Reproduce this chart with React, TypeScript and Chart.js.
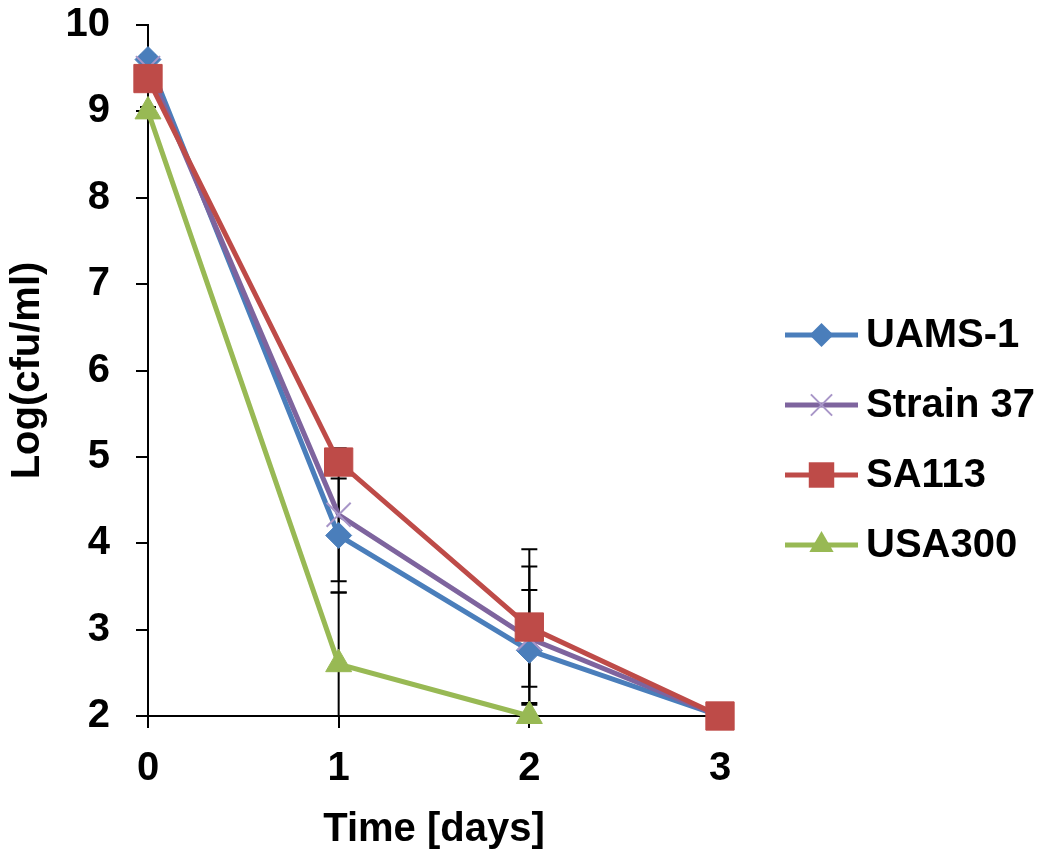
import React, { useEffect, useRef } from "react";
import { Chart, registerables } from "chart.js";

Chart.register(...registerables);

// ---- data ----
const days = [0, 1, 2, 3];
const seriesNames = ["UAMS-1", "Strain 37", "SA113", "USA300"];
const uams1 = [9.6, 4.09, 2.76, 2.0];
const strain37 = [9.5, 4.33, 2.9, 2.0];
const sa113 = [9.38, 4.94, 3.03, 2.0];
const usa300 = [9.0, 2.6, 2.0, null];
const uams1Err = [0.05, 0.66, 0.97, 0];
const strain37Err = [0.05, 0.77, 0.56, 0];
const sa113Err = [0.05, 0.15, 0.9, 0];
const usa300Err = [0.05, 0.83, 0.15, null];
const xTickValues = [0, 1, 2, 3];
const yMin = 2;
const yMax = 10;
const xTitle = "Time [days]";
const yTitle = "Log(cfu/ml)";

const seriesValues = [uams1, strain37, sa113, usa300];
const seriesErrors = [uams1Err, strain37Err, sa113Err, usa300Err];
const lineColors = ["#4A7EBB", "#7E649E", "#BE4B48", "#98B954"];
const markerFill = ["#4A7EBB", "#A896C8", "#BE4B48", "#98B954"];
const markerStyles = ["rectRot", "crossRot", "rect", "triangle"];
const markerRadius = [13, 17, 20, 15];

const FONT_FAMILY = "'Liberation Sans', Arial, sans-serif";
const bigFont = { family: FONT_FAMILY, size: 40, weight: "bold" as const };

function drawMarker(ctx: CanvasRenderingContext2D, style: string, x: number, y: number, r: number, color: string) {
  ctx.save();
  ctx.fillStyle = color;
  ctx.strokeStyle = color;
  ctx.lineWidth = style === "crossRot" ? 2 : 1;
  ctx.beginPath();
  if (style === "rectRot") {
    ctx.moveTo(x - r, y);
    ctx.lineTo(x, y - r);
    ctx.lineTo(x + r, y);
    ctx.lineTo(x, y + r);
    ctx.closePath();
    ctx.fill();
  } else if (style === "rect") {
    const s = Math.SQRT1_2 * r;
    ctx.rect(x - s, y - s, 2 * s, 2 * s);
    ctx.fill();
  } else if (style === "triangle") {
    let rad = 0;
    ctx.moveTo(x + Math.sin(rad) * r, y - Math.cos(rad) * r);
    rad += (2 * Math.PI) / 3;
    ctx.lineTo(x + Math.sin(rad) * r, y - Math.cos(rad) * r);
    rad += (2 * Math.PI) / 3;
    ctx.lineTo(x + Math.sin(rad) * r, y - Math.cos(rad) * r);
    ctx.closePath();
    ctx.fill();
  } else if (style === "crossRot") {
    const o = Math.SQRT1_2 * r;
    ctx.moveTo(x - o, y - o);
    ctx.lineTo(x + o, y + o);
    ctx.moveTo(x - o, y + o);
    ctx.lineTo(x + o, y - o);
    ctx.stroke();
  }
  ctx.restore();
}

const errorBarPlugin = {
  id: "errorBars",
  beforeDatasetsDraw(chart: any) {
    const { ctx, chartArea, scales } = chart;
    const xs = scales.x;
    const ys = scales.y;
    ctx.save();
    ctx.beginPath();
    ctx.rect(chartArea.left - 12, chartArea.top - 20, chartArea.width + 24, chartArea.bottom - chartArea.top + 20);
    ctx.clip();
    ctx.strokeStyle = "#000";
    ctx.lineWidth = 2;
    seriesValues.forEach((vals, i) => {
      const errs = seriesErrors[i];
      vals.forEach((v, j) => {
        const e = errs[j];
        if (v == null || e == null || e === 0) return;
        const px = xs.getPixelForValue(days[j]);
        const top = ys.getPixelForValue(v + e);
        const bot = ys.getPixelForValue(v - e);
        ctx.beginPath();
        ctx.moveTo(px, top);
        ctx.lineTo(px, bot);
        ctx.moveTo(px - 8, top);
        ctx.lineTo(px + 8, top);
        ctx.moveTo(px - 8, bot);
        ctx.lineTo(px + 8, bot);
        ctx.stroke();
      });
    });
    ctx.restore();
  },
};

const legendPlugin = {
  id: "customLegend",
  afterDraw(chart: any) {
    const { ctx } = chart;
    const x0 = 785;
    const x1 = 858;
    const yStart = 335;
    const step = 70;
    ctx.save();
    seriesNames.forEach((name, i) => {
      const yy = yStart + step * i;
      ctx.strokeStyle = lineColors[i];
      ctx.lineWidth = 5;
      ctx.beginPath();
      ctx.moveTo(x0, yy);
      ctx.lineTo(x1, yy);
      ctx.stroke();
      const lr = [12, 15, 18, 14][i];
      drawMarker(ctx, markerStyles[i], (x0 + x1) / 2, yy, lr, markerFill[i]);
      ctx.fillStyle = "#000";
      ctx.font = `bold 40px ${FONT_FAMILY}`;
      ctx.textAlign = "left";
      ctx.textBaseline = "middle";
      ctx.fillText(name, 866, yy + 1);
    });
    ctx.restore();
  },
};

export default function App() {
  const canvasRef = useRef<HTMLCanvasElement | null>(null);

  useEffect(() => {
    if (!canvasRef.current) return;
    const datasets = seriesNames.map((name, i) => ({
      label: name,
      data: days
        .map((d, j) => ({ x: d, y: seriesValues[i][j] }))
        .filter((p) => p.y != null),
      borderColor: lineColors[i],
      backgroundColor: markerFill[i],
      borderWidth: 5,
      pointStyle: markerStyles[i],
      pointRadius: markerRadius[i],
      pointHoverRadius: markerRadius[i],
      pointBackgroundColor: markerFill[i],
      pointBorderColor: markerFill[i],
      pointBorderWidth: i === 1 ? 2 : 1,
      tension: 0,
      fill: false,
      clip: false,
      order: seriesNames.length - i,
    }));

    const chart = new Chart(canvasRef.current, {
      type: "line",
      data: { datasets },
      options: {
        animation: false,
        responsive: true,
        maintainAspectRatio: false,
        events: [],
        layout: { padding: { top: 25, right: 330, bottom: 0, left: 0 } },
        plugins: {
          legend: { display: false },
          tooltip: { enabled: false },
        },
        scales: {
          x: {
            type: "linear",
            min: 0,
            max: 3,
            afterBuildTicks: (s: any) => {
              s.ticks = xTickValues.map((v) => ({ value: v }));
            },
            ticks: { font: bigFont, color: "#000", padding: 17, maxRotation: 0 },
            grid: { drawOnChartArea: false, color: "#000", lineWidth: 2, tickLength: 12 },
            border: { display: true, color: "#000", width: 2 },
            title: { display: true, text: xTitle, font: bigFont, color: "#000", padding: { top: 0, bottom: 13 } },
            afterFit: (s: any) => {
              s.height = 151;
              s.paddingLeft = 0;
              s.paddingRight = 0;
            },
          },
          y: {
            type: "linear",
            min: yMin,
            max: yMax,
            ticks: { stepSize: 1, font: bigFont, color: "#000", padding: 26 },
            grid: { drawOnChartArea: false, color: "#000", lineWidth: 2, tickLength: 12 },
            border: { display: true, color: "#000", width: 2 },
            title: { display: true, text: yTitle, font: bigFont, color: "#000", padding: { top: 4, bottom: 0 } },
            afterFit: (s: any) => {
              s.width = 148;
              s.paddingTop = 0;
              s.paddingBottom = 0;
            },
          },
        },
      },
      plugins: [errorBarPlugin, legendPlugin],
    });
    return () => chart.destroy();
  }, []);

  return (
    <div style={{ position: "fixed", left: 0, top: 0, width: 1050, height: 867, background: "#fff" }}>
      <canvas ref={canvasRef} />
    </div>
  );
}
